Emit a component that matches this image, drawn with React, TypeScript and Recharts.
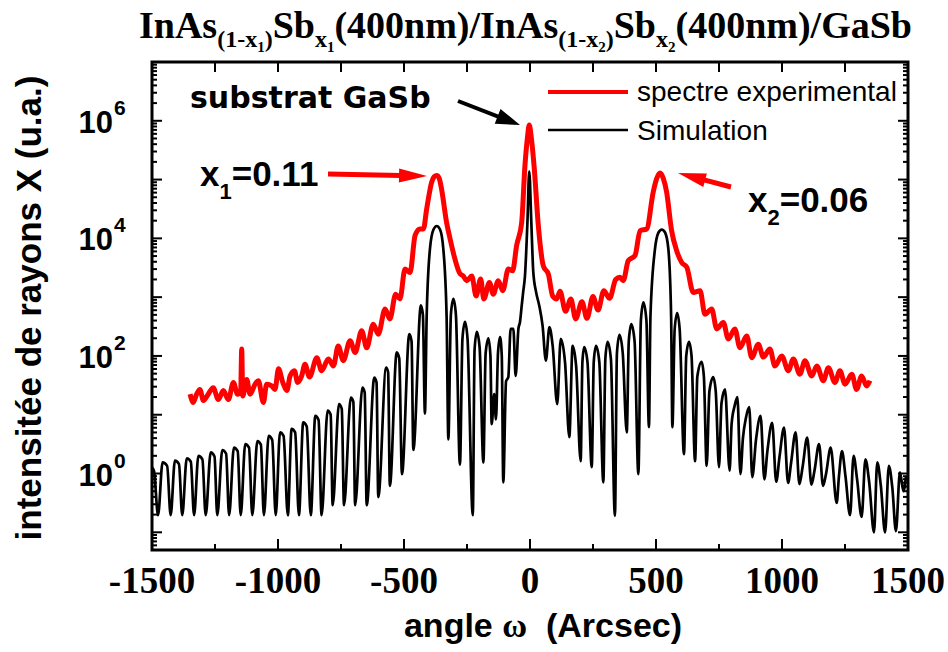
import React from 'react';
import { LineChart, Line, XAxis, YAxis, ReferenceArea } from 'recharts';

const W = 948;
const H = 652;
const PLOT = { left: 152, top: 62, right: 908, bottom: 550 };

// [angle (arcsec), log10 intensity]
const simLeftTail = [
  [-1500, 0.10], [-1492, 0.04], [-1476, -0.71], [-1458, 0.19], [-1440, 0.13],
  [-1426, -0.71], [-1409, 0.22], [-1393, 0.16], [-1380, -0.71], [-1362, 0.26],
  [-1346, 0.20], [-1333, -0.71], [-1316, 0.30], [-1300, 0.24], [-1287, -0.71],
  [-1267, 0.36], [-1252, 0.29], [-1241, -0.71], [-1221, 0.40], [-1206, 0.34],
  [-1194, -0.71], [-1175, 0.44], [-1160, 0.38], [-1148, -0.71], [-1130, 0.50],
  [-1115, 0.44], [-1102, -0.71], [-1082, 0.55], [-1068, 0.49], [-1056, -0.71],
  [-1037, 0.64], [-1023, 0.57], [-1009, -0.71], [-992, 0.70], [-978, 0.64],
  [-961, -0.71], [-946, 0.76], [-932, 0.70], [-917, -0.71], [-900, 0.87],
  [-886, 0.80], [-870, -0.71], [-852, 0.98], [-839, 0.91], [-827, -0.71],
  [-803, 1.07], [-791, 1.00], [-783, -0.54], [-758, 1.18], [-747, 1.10],
  [-738, -0.54], [-711, 1.29], [-701, 1.22], [-694, -0.54], [-665, 1.46],
  [-656, 1.38], [-648, -0.54], [-618, 1.63], [-609, 1.55], [-602, -0.40],
  [-571, 1.80], [-563, 1.72], [-556, -0.21], [-529, 2.06], [-519, 1.96],
  [-508, -0.01], [-479, 2.37], [-470, 2.25], [-463, 0.40], [-433, 2.86],
  [-425, 2.70], [-417, 1.02],
];

const simLayer1 = [
  [-410, 2.68], [-397, 3.82], [-383, 4.15], [-370, 4.21], [-357, 4.15],
  [-344, 3.82], [-331, 2.68], [-324, 0.58],
];

const simCenter = [
  [-314, 2.70], [-304, 2.97], [-294, 2.70], [-278, 0.15], [-268, 2.30],
  [-258, 2.58], [-248, 2.30], [-227, -0.71], [-220, 2.10], [-211, 2.41],
  [-200, 2.15], [-185, 0.19], [-176, 2.05], [-165, 2.30], [-157, 2.00],
  [-152, 0.84], [-142, 1.35], [-135, 0.92], [-127, 2.05], [-119, 2.32],
  [-112, 2.00], [-106, -0.15], [-95, 1.57], [-86, 1.64], [-77, 2.46],
  [-66, 2.46], [-57, 1.66], [-46, 2.46], [-40, 2.57], [-33, 2.85],
  [-27, 3.09], [-20, 3.36], [-10, 4.30], [-3, 5.14], [5, 4.30],
  [13, 3.43], [24, 3.09], [37, 2.85], [50, 2.51], [63, 1.92],
  [77, 2.49], [90, 2.17], [108, 1.18], [122, 2.29], [139, 1.89],
  [156, 0.62], [169, 2.17], [183, 1.83], [201, 0.21], [208, 1.90],
  [215, 2.15], [228, 1.90], [245, 0.11], [253, 1.90], [262, 2.17],
  [275, 1.90], [291, -0.15], [299, 1.95], [308, 2.24], [321, 1.95],
  [337, -0.72], [345, 2.05], [355, 2.36], [368, 2.05], [384, 0.70],
  [392, 2.25], [402, 2.54], [415, 2.25], [430, -0.01], [440, 2.60],
  [450, 2.91], [462, 2.60], [472, 0.79],
];

const simLayer2 = [
  [478, 2.68], [496, 3.82], [510, 4.10], [523, 4.15], [536, 4.10],
  [549, 3.82], [560, 2.68], [565, 0.79],
];

const simRightTail = [
  [574, 2.45], [584, 2.73], [594, 2.45], [611, 0.33], [620, 2.00],
  [631, 2.24], [641, 2.00], [655, 0.21], [664, 1.65], [681, 1.90],
  [690, 1.65], [701, 0.13], [712, 1.40], [727, 1.64], [737, 1.40],
  [750, 0.11], [760, 1.20], [774, 1.43], [792, 0.05], [800, 0.84],
  [812, 1.15], [823, 1.30], [835, -0.01], [845, 0.60], [857, 0.95],
  [870, 1.13], [882, -0.06], [897, 0.58], [915, 0.98], [930, -0.10],
  [942, 0.38], [961, 0.86], [977, -0.14], [990, 0.28], [1008, 0.78],
  [1024, -0.16], [1036, 0.18], [1054, 0.70], [1069, -0.18], [1082, 0.12],
  [1100, 0.61], [1117, -0.19], [1129, 0.05], [1147, 0.50], [1163, -0.21],
  [1175, 0.00], [1193, 0.44], [1217, -0.50], [1226, -0.05], [1238, 0.38],
  [1252, -0.05], [1270, -0.71], [1284, 0.30], [1298, -0.10], [1316, -0.74],
  [1331, 0.24], [1346, -0.15], [1365, -1.00], [1378, 0.19], [1392, -0.20],
  [1409, -1.00], [1424, 0.13], [1438, -0.25], [1452, -0.98], [1468, 0.02],
  [1482, -0.30], [1492, -0.05],
];

const expLeft = [
  [-1349, 1.35], [-1336, 1.21], [-1323, 1.35], [-1310, 1.43], [-1296, 1.24],
  [-1277, 1.35], [-1257, 1.46], [-1237, 1.26], [-1217, 1.41], [-1197, 1.26],
  [-1177, 1.55], [-1161, 1.35], [-1148, 1.40], [-1144, 2.12], [-1140, 1.32],
  [-1124, 1.60], [-1111, 1.35], [-1091, 1.52], [-1078, 1.58], [-1058, 1.21],
  [-1045, 1.52], [-1025, 1.49], [-1012, 1.43], [-998, 1.78], [-981, 1.55],
  [-965, 1.41], [-952, 1.66], [-935, 1.75], [-922, 1.55], [-906, 1.66],
  [-893, 1.86], [-875, 1.64], [-846, 1.97], [-827, 1.75], [-800, 1.95],
  [-780, 1.83], [-761, 2.17], [-741, 1.92], [-714, 2.26], [-694, 2.06],
  [-668, 2.43], [-648, 2.14], [-622, 2.54], [-602, 2.37], [-575, 2.80],
  [-556, 2.63], [-533, 3.05], [-516, 2.97], [-496, 3.48], [-476, 3.42],
  [-456, 4.05], [-437, 4.16], [-423, 4.16],
];

const expLayer1 = [
  [-410, 4.50], [-390, 4.96], [-380, 5.05], [-370, 5.07], [-360, 5.02],
  [-351, 4.84], [-331, 4.27], [-317, 3.99], [-298, 3.65], [-278, 3.40],
];

const expCenter = [
  [-265, 3.36], [-251, 3.28], [-231, 3.36], [-214, 3.02], [-196, 3.31],
  [-183, 2.97], [-161, 3.25], [-146, 3.05], [-126, 3.28], [-108, 3.11],
  [-86, 3.48], [-69, 3.45], [-53, 3.88], [-33, 4.27], [-20, 5.24],
  [-10, 5.72], [-3, 5.93], [5, 5.72], [16, 5.24], [33, 4.22],
  [53, 3.53], [73, 3.39], [90, 3.02], [106, 2.97], [119, 3.10],
  [141, 2.76], [162, 2.97], [181, 2.63], [206, 2.92], [226, 2.64],
  [250, 3.01], [270, 2.78], [293, 3.11], [316, 2.98], [340, 3.30],
  [357, 3.34],
];

const expLayer2 = [
  [370, 3.28], [390, 3.62], [417, 3.71], [437, 4.13], [463, 4.16],
  [489, 4.79], [503, 5.02], [516, 5.11], [529, 5.02], [542, 4.79],
  [562, 4.13], [582, 3.79], [602, 3.59], [622, 3.51], [648, 3.08],
  [675, 3.11],
];

const expRight = [
  [694, 2.71], [721, 2.80], [741, 2.46], [767, 2.57], [787, 2.29],
  [813, 2.46], [833, 2.14], [860, 2.34], [880, 1.97], [906, 2.20],
  [926, 1.98], [952, 2.12], [972, 1.83], [999, 2.00], [1025, 1.75],
  [1045, 1.95], [1071, 1.69], [1091, 1.92], [1118, 1.66], [1138, 1.83],
  [1164, 1.58], [1184, 1.80], [1210, 1.55], [1230, 1.75], [1250, 1.52],
  [1277, 1.69], [1296, 1.43], [1316, 1.66], [1336, 1.49], [1349, 1.58],
];

const xMajorTicks = [-1500, -1000, -500, 0, 500, 1000, 1500];
const xMinorTicks = [-1250, -750, -250, 250, 750, 1250];
const yLabelExponents = [0, 2, 4, 6];
const Y_MIN = 0.05;
const Y_MAX = 1e7;

const toPoints = (rows: number[][]) => rows.map(([a, l]) => ({ a, v: Math.pow(10, l) }));

const simData = toPoints([...simLeftTail, ...simLayer1, ...simCenter, ...simLayer2, ...simRightTail]);
const expData = toPoints([...expLeft, ...expLayer1, ...expCenter, ...expLayer2, ...expRight]);

const xTicks = [...xMajorTicks, ...xMinorTicks].sort((p, q) => p - q);

// all log ticks (1..9 x 10^d) inside the domain
const yTicks: number[] = [];
for (let d = -2; d <= 7; d++) {
  for (let m = 1; m <= 9; m++) {
    const v = Number((m * Math.pow(10, d)).toPrecision(6));
    if (v >= Y_MIN - 1e-9 && v <= Y_MAX + 1e-9) yTicks.push(v);
  }
}

const SANS = 'Liberation Sans, Arial, sans-serif';
const SERIF = 'Liberation Serif, Times New Roman, serif';

function XTick(props: any) {
  const { x, payload } = props;
  const v = payload.value;
  const major = xMajorTicks.includes(v);
  return (
    <g>
      <line x1={x} x2={x} y1={PLOT.bottom} y2={PLOT.bottom - (major ? 11 : 6)} stroke="#000" strokeWidth={2} />
      <line x1={x} x2={x} y1={PLOT.top} y2={PLOT.top + 10} stroke="#000" strokeWidth={2} />
      {major && (
        <text x={x} y={PLOT.bottom + 43} textAnchor="middle" fontFamily={SERIF} fontWeight="bold" fontSize={37} fill="#000">
          {String(v)}
        </text>
      )}
    </g>
  );
}

function YTick(props: any) {
  const { y, payload } = props;
  const v = payload.value;
  const e = Math.round(Math.log10(v));
  const major = Math.abs(Math.log10(v) - e) < 1e-6;
  const len = major ? 10 : 5;
  const labelled = major && yLabelExponents.includes(e);
  return (
    <g>
      <line x1={PLOT.left} x2={PLOT.left + len} y1={y} y2={y} stroke="#000" strokeWidth={2} />
      <line x1={PLOT.right} x2={PLOT.right - len} y1={y} y2={y} stroke="#000" strokeWidth={2} />
      {labelled && (
        <g fontFamily={SANS} fontWeight="bold" fill="#000">
          <text x={PLOT.left - 39} y={y + 12} textAnchor="end" fontSize={31}>10</text>
          <text x={PLOT.left - 38} y={y - 6} fontSize={21}>{String(e)}</text>
        </g>
      )}
    </g>
  );
}

function Arrow({ x1, y1, x2, y2, color, width, head, headW }: any) {
  const dx = x2 - x1;
  const dy = y2 - y1;
  const len = Math.hypot(dx, dy);
  const ux = dx / len;
  const uy = dy / len;
  const bx = x2 - ux * head;
  const by = y2 - uy * head;
  const px = -uy * headW;
  const py = ux * headW;
  return (
    <g>
      <line x1={x1} y1={y1} x2={bx + ux * 2} y2={by + uy * 2} stroke={color} strokeWidth={width} />
      <polygon points={`${x2},${y2} ${bx + px},${by + py} ${bx - px},${by - py}`} fill={color} />
    </g>
  );
}

function Overlay() {
  return (
    <svg width={W} height={H} style={{ position: 'absolute', left: 0, top: 0, pointerEvents: 'none' }}>
      {/* title */}
      <text x={139} y={38} fontFamily={SERIF} fontWeight="bold" fontSize={38} fill="#000">
        InAs
        <tspan fontSize={24} dy={9}>(1-x</tspan>
        <tspan fontSize={15} dy={5}>1</tspan>
        <tspan fontSize={24} dy={-5}>)</tspan>
        <tspan dy={-9}>Sb</tspan>
        <tspan fontSize={24} dy={9}>x</tspan>
        <tspan fontSize={15} dy={5}>1</tspan>
        <tspan dy={-14}>(400nm)/InAs</tspan>
        <tspan fontSize={24} dy={9}>(1-x</tspan>
        <tspan fontSize={15} dy={5}>2</tspan>
        <tspan fontSize={24} dy={-5}>)</tspan>
        <tspan dy={-9}>Sb</tspan>
        <tspan fontSize={24} dy={9}>x</tspan>
        <tspan fontSize={15} dy={5}>2</tspan>
        <tspan dy={-14}>(400nm)/GaSb</tspan>
      </text>

      {/* axis titles */}
      <text transform="translate(41,308) rotate(-90)" textAnchor="middle" fontFamily={SANS} fontWeight="bold" fontSize={35} fill="#000">
        intensitée de rayons X (u.a.)
      </text>
      <text x={543} y={637} textAnchor="middle" fontFamily={SANS} fontWeight="bold" fontSize={34} fill="#000" style={{ whiteSpace: 'pre' }}>
        {'angle '}
        <tspan fontFamily={SERIF} fontSize={34}>ω</tspan>
        {'  (Arcsec)'}
      </text>

      {/* legend */}
      <line x1={548} x2={628} y1={92} y2={92} stroke="#ff0000" strokeWidth={4} />
      <text x={637} y={101} fontFamily={SANS} fontSize={28} fill="#000">spectre experimental</text>
      <line x1={548} x2={628} y1={130} y2={130} stroke="#000" strokeWidth={2.5} />
      <text x={637} y={140} fontFamily={SANS} fontSize={28} fill="#000">Simulation</text>

      {/* annotations */}
      <text x={190} y={108} fontFamily="DejaVu Sans, sans-serif" fontWeight="bold" fontSize={30} fill="#000">substrat GaSb</text>
      <Arrow x1={458} y1={101} x2={520} y2={125} color="#000" width={4} head={24} headW={8} />

      <text x={200} y={186} fontFamily={SANS} fontWeight="bold" fontSize={35} fill="#000">
        x<tspan fontSize={22} dy={13}>1</tspan><tspan dy={-13}>=0.11</tspan>
      </text>
      <Arrow x1={328} y1={174} x2={427} y2={176} color="#ff0000" width={5} head={28} headW={7} />

      <text x={748} y={212} fontFamily={SANS} fontWeight="bold" fontSize={35} fill="#000">
        x<tspan fontSize={22} dy={13}>2</tspan><tspan dy={-13}>=0.06</tspan>
      </text>
      <Arrow x1={731} y1={187} x2={678} y2={173} color="#ff0000" width={5} head={28} headW={7} />
    </svg>
  );
}

export default function App() {
  return (
    <div style={{ position: 'absolute', left: 0, top: 0, width: W, height: H, background: '#fff' }}>
      <LineChart
        width={W}
        height={H}
        margin={{ top: PLOT.top, right: W - PLOT.right, bottom: H - PLOT.bottom - 40, left: PLOT.left - 100 }}
      >
        <XAxis
          dataKey="a"
          type="number"
          domain={[-1500, 1500]}
          ticks={xTicks}
          interval={0}
          allowDataOverflow
          height={40}
          tickSize={0}
          tickMargin={0}
          tickLine={false}
          axisLine={false}
          tick={(p: any) => <XTick {...p} />}
        />
        <YAxis
          type="number"
          scale="log"
          domain={[Y_MIN, Y_MAX]}
          ticks={yTicks}
          interval={0}
          allowDataOverflow
          width={100}
          tickSize={0}
          tickMargin={0}
          tickLine={false}
          axisLine={false}
          tick={(p: any) => <YTick {...p} />}
        />
        <Line
          data={expData}
          dataKey="v"
          type="monotone"
          stroke="#ff0000"
          strokeWidth={5}
          strokeLinejoin="round"
          dot={false}
          isAnimationActive={false}
        />
        <Line
          data={simData}
          dataKey="v"
          type="monotone"
          stroke="#000"
          strokeWidth={2.7}
          strokeLinejoin="round"
          dot={false}
          isAnimationActive={false}
        />
        <ReferenceArea
          x1={-1500}
          x2={1500}
          y1={Y_MIN}
          y2={Y_MAX}
          fill="none"
          fillOpacity={0}
          stroke="#000"
          strokeWidth={3}
          ifOverflow="visible"
        />
      </LineChart>
      <Overlay />
    </div>
  );
}
